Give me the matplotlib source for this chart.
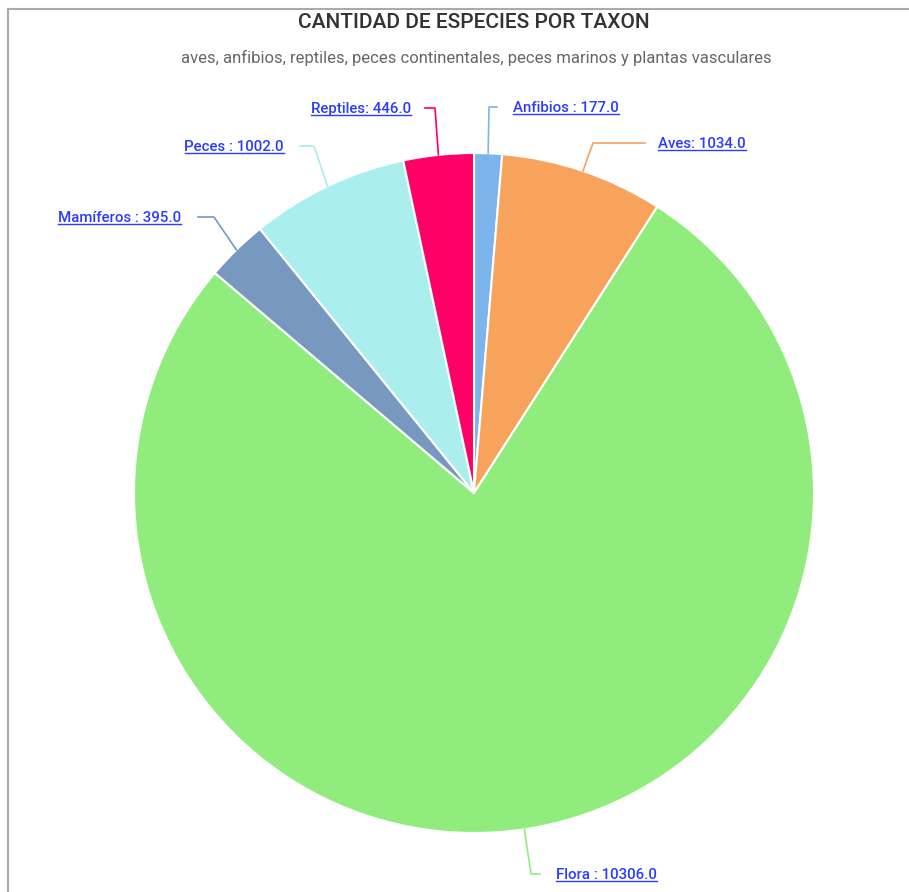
import matplotlib
matplotlib.use("Agg")
import matplotlib.pyplot as plt
from matplotlib.lines import Line2D
import numpy as np

# ---- data ----
categories = ["Anfibios", "Aves", "Flora", "Mamíferos", "Peces", "Reptiles"]
values = [177.0, 1034.0, 10306.0, 395.0, 1002.0, 446.0]
colors = ["#7cb5ec", "#f7a35c", "#90ed7d", "#7798bf", "#aaeeee", "#ff0066"]
label_fmt = ["Anfibios : {:.1f}", "Aves: {:.1f}", "Flora : {:.1f}",
             "Mamíferos : {:.1f}", "Peces : {:.1f}", "Reptiles: {:.1f}"]
title = "CANTIDAD DE ESPECIES POR TAXON"
subtitle = "aves, anfibios, reptiles, peces continentales, peces marinos y plantas vasculares"

# ---- layout (pixels) ----
W, H = 909, 892
CX, CY, R = 474, 493, 340
FONT = ["Roboto", "DejaVu Sans"]
elbows = {
    "Anfibios": ((489, 107), (497, 107), "left", 513),
    "Aves": ((593, 143), (645, 143), "left", 658),
    "Flora": ((531, 874), (540, 874), "left", 556),
    "Mamíferos": ((214, 217), (198, 217), "right", 181),
    "Peces": ((314, 146), (300, 146), "right", 284),
    "Reptiles": ((435, 108), (425, 108), "right", 411),
}

fig = plt.figure(figsize=(W / 100, H / 100), dpi=100)
ax = fig.add_axes([0, 0, 1, 1])
wedges, _ = ax.pie(values, colors=colors, startangle=90, counterclock=False,
                   center=(CX, H - CY), radius=R,
                   wedgeprops=dict(edgecolor="white", linewidth=1.5))
ax.set_xlim(0, W)
ax.set_ylim(0, H)
ax.set_aspect("equal", adjustable="box")
ax.axis("off")

def py(y):
    return H - y

total = sum(values)
cum = 0.0
for cat, v, col, fmt in zip(categories, values, colors, label_fmt):
    mid = (cum + v / 2) / total * 2 * np.pi
    cum += v
    sx = CX + R * np.sin(mid)
    sy = CY - R * np.cos(mid)
    (ex, ey), (hx, hy), side, lx = elbows[cat]
    ax.add_line(Line2D([sx, ex, hx], [py(sy), py(ey), py(hy)], color=col, lw=1.2))
    ax.text(lx, py(hy + 1), fmt.format(v), ha=side, va="center", color="#2b3cff",
            fontsize=10.8, family=FONT, weight="medium", gid="lbl")

fig.text(474 / W, 1 - 22 / H, title, ha="center", va="center", color="#333333",
         fontsize=15, family=FONT, weight="medium")
fig.text(476 / W, 1 - 58 / H, subtitle, ha="center", va="center", color="#666666",
         fontsize=12, family=FONT)

# border
fig.add_artist(Line2D([8 / W, 1], [1 - 9 / H, 1 - 9 / H], transform=fig.transFigure,
                      color="#aaaaaa", lw=1.5))
fig.add_artist(Line2D([8 / W, 8 / W], [0, 1 - 9 / H], transform=fig.transFigure,
                      color="#aaaaaa", lw=1.5))

# underlines for labels
fig.canvas.draw()
renderer = fig.canvas.get_renderer()
for t in ax.texts:
    if t.get_gid() == "lbl":
        bb = t.get_window_extent(renderer)
        yb = bb.y0 + 1.5
        fig.add_artist(Line2D([bb.x0 / W, bb.x1 / W], [yb / H, yb / H],
                              transform=fig.transFigure, color="#2b3cff", lw=1.0))

fig.savefig("out.png", dpi=100)
